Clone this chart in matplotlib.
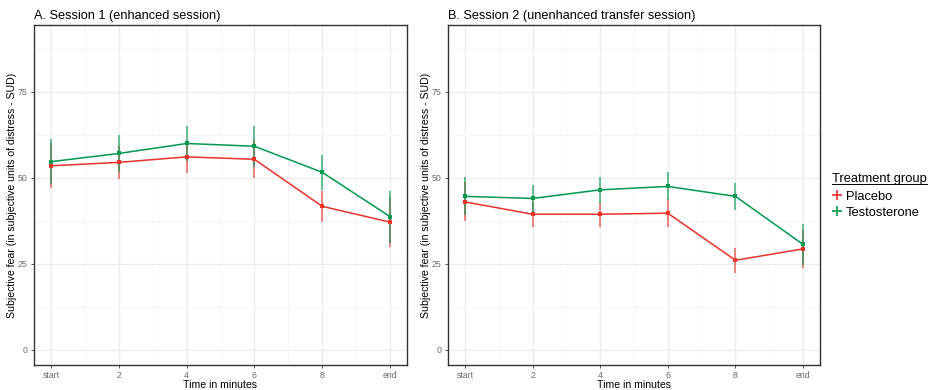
import matplotlib
matplotlib.use("Agg")
import matplotlib.pyplot as plt
from matplotlib.lines import Line2D

plt.rcParams['font.family'] = ['Liberation Sans', 'DejaVu Sans']

# Time points (minutes) and their tick labels
minutes = [0, 2, 4, 6, 8, 10]
tick_labels = ["start", "2", "4", "6", "8", "end"]

# Session 1 (enhanced): mean SUD and half-width of error bars
s1_placebo = [53.5, 54.5, 56.1, 55.4, 41.7, 37.1]
s1_placebo_err = [6.6, 4.9, 4.7, 5.5, 4.6, 7.3]
s1_testo = [54.7, 57.1, 60.0, 59.2, 51.6, 38.7]
s1_testo_err = [6.6, 5.4, 5.2, 6.0, 5.1, 7.6]

# Session 2 (unenhanced transfer): mean SUD and half-width of error bars
s2_placebo = [43.0, 39.4, 39.4, 39.7, 26.0, 29.3]
s2_placebo_err = [5.7, 3.7, 3.6, 4.1, 3.7, 5.6]
s2_testo = [44.6, 44.0, 46.5, 47.5, 44.6, 30.6]
s2_testo_err = [5.5, 4.0, 3.7, 4.1, 3.9, 6.1]

groups = ["Placebo", "Testosterone"]
colors = {"Placebo": "#E8322B", "Testosterone": "#00994F"}

W, H = 929, 390
fig = plt.figure(figsize=(W / 100, H / 100), dpi=100)


def px_axes(left, right, top, bottom):
    return fig.add_axes([left / W, 1 - bottom / H, (right - left) / W, (bottom - top) / H])


def draw_panel(ax, title, series):
    ax.set_facecolor("white")
    for name, (vals, errs) in series.items():
        c = colors[name]
        ax.errorbar(minutes, vals, yerr=errs, fmt="none", ecolor=c, elinewidth=1.4,
                    alpha=0.6, capsize=0, zorder=3)
        ax.plot(minutes, vals, color=c, lw=1.1, marker="s", ms=2.2, mew=0, zorder=4)
    ax.set_xlim(-0.5, 10.5)
    ax.set_ylim(-4.5, 94.5)
    ax.set_xticks(minutes)
    ax.set_xticklabels(tick_labels)
    ax.set_xticks([1, 3, 5, 7, 9], minor=True)
    ax.set_yticks([0, 25, 50, 75])
    ax.set_yticks([12.5, 37.5, 62.5, 87.5], minor=True)
    ax.grid(True, which="major", color="#EBEBEB", lw=0.9, zorder=0)
    ax.grid(True, which="minor", color="#F4F4F4", lw=0.6, zorder=0)
    ax.set_axisbelow(True)
    ax.tick_params(which="major", length=2.5, width=0.6, color="#333333",
                   labelsize=6.3, labelcolor="#6A6A6A", pad=2)
    ax.tick_params(which="minor", length=0)
    for s in ax.spines.values():
        s.set_color("#333333")
        s.set_linewidth(1.0)
    ax.set_title(title, loc="left", fontsize=9.2, pad=4)
    ax.set_xlabel("Time in minutes", fontsize=7.6, labelpad=0)
    ax.set_ylabel("Subjective fear (in subjective units of distress - SUD)", fontsize=7.6, labelpad=1)


ax1 = px_axes(34, 407, 25, 365)
draw_panel(ax1, "A. Session 1 (enhanced session)",
           {"Placebo": (s1_placebo, s1_placebo_err), "Testosterone": (s1_testo, s1_testo_err)})

ax2 = px_axes(448, 820, 25, 365)
draw_panel(ax2, "B. Session 2 (unenhanced transfer session)",
           {"Placebo": (s2_placebo, s2_placebo_err), "Testosterone": (s2_testo, s2_testo_err)})

# Legend
handles = [Line2D([], [], color=colors[g], marker="+", ms=7, mew=1.2, linestyle="none") for g in groups]
leg = fig.legend(handles, groups, title="Treatment group", loc="upper left",
                 bbox_to_anchor=(832 / W, 1 - 173 / H), frameon=False, fontsize=9.3,
                 title_fontsize=9.3, handlelength=0.7, handletextpad=0.35,
                 labelspacing=0.3, borderaxespad=0, borderpad=0)
leg._legend_box.align = "left"
leg._legend_box.sep = 4

# Underline the legend title
fig.canvas.draw()
bb = leg.get_title().get_window_extent().transformed(fig.transFigure.inverted())
fig.add_artist(Line2D([bb.x0, bb.x1], [bb.y0 + 0.002, bb.y0 + 0.002],
                      transform=fig.transFigure, color="black", lw=0.7))

fig.savefig("out.png", dpi=100)
